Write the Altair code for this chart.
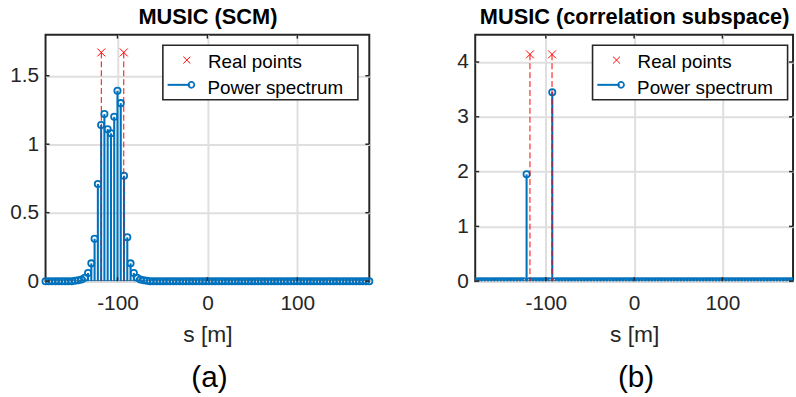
import altair as alt
import numpy as np
import pandas as pd

# sample positions of the spectrum (m): 100 evenly spaced samples on [-180, 180]
S_VALUES = np.linspace(-180, 180, 100).round(3).tolist()

# power spectrum values
P_SCM = ([0.0] * 9
         + [0.003, 0.006, 0.012, 0.025, 0.06, 0.13, 0.31, 0.71, 1.14, 1.22, 1.11,
            1.08, 1.20, 1.39, 1.30, 0.77, 0.32, 0.13, 0.06, 0.025, 0.012, 0.006, 0.003]
         + [0.0] * 68)
P_CORR = [0.0] * 16 + [1.95] + [0.0] * 7 + [3.45] + [0.0] * 75

REAL_S = [-118, -93]
REAL_H_SCM = [1.67, 1.67]
REAL_H_CORR = [4.14, 4.14]

X_TICKS = [-100, 0, 100]
Y_TICKS_SCM = [0, 0.5, 1, 1.5]
Y_TICKS_CORR = [0, 1, 2, 3, 4]

TITLES = ["MUSIC (SCM)", "MUSIC (correlation subspace)"]
CAPTIONS = ["(a)", "(b)"]
LEGEND_LABELS = ["Real points", "Power spectrum"]
X_TITLE = "s [m]"

FONT = "Liberation Sans"
BLUE = "#0072BD"
RED = "#ff0000"
DARK = "#262626"
GRID = "#dfdfdf"
XPATH = "M-1,-1L1,1M-1,1L1,-1"
H = 249


def panel(p_vals, real_h, ydomain, yticks, title, caption, width, clip):
    df = pd.DataFrame({"s": S_VALUES, "p": p_vals})
    dreal = pd.DataFrame({"s": REAL_S, "p": real_h})
    one = pd.DataFrame({"k": [0]})
    xsc = alt.Scale(domain=[-180, 180], nice=False, zero=False)
    ysc = alt.Scale(domain=ydomain, nice=False, zero=False)
    xaxis = alt.Axis(values=X_TICKS, title=X_TITLE, grid=True, labelExpr="'' + datum.value",
                     labelPadding=12, titlePadding=10, labelFlush=False, labelOverlap=False)
    yaxis = alt.Axis(values=yticks, title=None, grid=True, labelExpr="'' + datum.value",
                     labelPadding=7, labelOverlap=False)

    stems = alt.Chart(df).mark_rule(color=BLUE, strokeWidth=2.1).encode(
        x=alt.X("s:Q", scale=xsc, axis=xaxis),
        y=alt.Y("p:Q", scale=ysc, axis=yaxis),
        y2=alt.datum(0),
    )
    circles = alt.Chart(df).mark_point(shape="circle", filled=False, color=BLUE, size=40,
                                       strokeWidth=1.8, opacity=1, clip=clip).encode(
        x="s:Q", y="p:Q")
    real_lines = alt.Chart(dreal).mark_rule(color=RED, strokeDash=[6, 3], strokeWidth=1).encode(
        x="s:Q", y="p:Q", y2=alt.datum(0))
    real_marks = alt.Chart(dreal).mark_point(shape=XPATH, filled=False, color=RED, size=64,
                                             strokeWidth=1, opacity=1).encode(x="s:Q", y="p:Q")

    xt = pd.DataFrame({"s": X_TICKS})
    yt = pd.DataFrame({"p": yticks})
    tick_style = dict(color=DARK, strokeWidth=1.5)
    ticks = [
        alt.Chart(xt).mark_rule(**tick_style).encode(x="s:Q", y=alt.value(0), y2=alt.value(4)),
        alt.Chart(xt).mark_rule(**tick_style).encode(x="s:Q", y=alt.value(H), y2=alt.value(H - 4)),
        alt.Chart(yt).mark_rule(**tick_style).encode(y="p:Q", x=alt.value(0), x2=alt.value(4)),
        alt.Chart(yt).mark_rule(**tick_style).encode(y="p:Q", x=alt.value(width), x2=alt.value(width - 4)),
    ]

    box = alt.Chart(one).mark_rect(fill="white", stroke=DARK, strokeWidth=1.6).encode(
        x=alt.value(118.5), x2=alt.value(315.5), y=alt.value(10.7), y2=alt.value(65.7))
    txt1 = alt.Chart(one).mark_text(text=LEGEND_LABELS[0], align="left", baseline="alphabetic",
                                    fontSize=19, font=FONT, color="black").encode(
        x=alt.value(164), y=alt.value(34))
    txt2 = alt.Chart(one).mark_text(text=LEGEND_LABELS[1], align="left", baseline="alphabetic",
                                    fontSize=19, font=FONT, color="black").encode(
        x=alt.value(163.5), y=alt.value(59.7))
    leg_x = alt.Chart(one).mark_point(shape=XPATH, filled=False, color=RED, size=49,
                                      strokeWidth=1, opacity=1).encode(
        x=alt.value(142.7), y=alt.value(25.7))
    leg_line = alt.Chart(one).mark_rule(color=BLUE, strokeWidth=2).encode(
        x=alt.value(123.3), x2=alt.value(146), y=alt.value(50.7))
    leg_circ = alt.Chart(one).mark_point(shape="circle", filled=False, color=BLUE, size=36,
                                         strokeWidth=1.7, opacity=1).encode(
        x=alt.value(147.3), y=alt.value(50.7))
    ttl = alt.Chart(one).mark_text(text=title, align="center", baseline="alphabetic",
                                   fontSize=22, fontWeight="bold", font=FONT,
                                   color="black").encode(
        x=alt.value(width / 2 + 0.5), y=alt.value(-11))
    cap = alt.Chart(one).mark_text(text=caption, align="center", baseline="alphabetic",
                                   fontSize=30, font=FONT, color="black").encode(
        x=alt.value(width / 2 + 2), y=alt.value(355.5))

    return alt.layer(stems, circles, real_lines, real_marks, *ticks,
                     box, txt1, txt2, leg_x, leg_line, leg_circ, ttl, cap).properties(
        width=width, height=H)


left = panel(P_SCM, REAL_H_SCM, [0, 1.8], Y_TICKS_SCM, TITLES[0], CAPTIONS[0], 327, False)
right = panel(P_CORR, REAL_H_CORR, [0, 4.5], Y_TICKS_CORR, TITLES[1], CAPTIONS[1], 321, True)

chart = alt.hconcat(left, right, spacing=79).properties(
    padding={"left": 8, "top": 3, "right": 0, "bottom": 1}
).configure(font=FONT).configure_view(
    stroke=DARK, strokeWidth=2
).configure_axis(
    labelFont=FONT, labelFontSize=21, labelColor=DARK,
    titleFont=FONT, titleFontSize=23, titleColor=DARK, titleFontWeight="normal",
    gridColor=GRID, gridWidth=2, domain=False, ticks=False, tickSize=0,
)

chart.save("out.html", embed_options={"renderer": "svg", "actions": False})
